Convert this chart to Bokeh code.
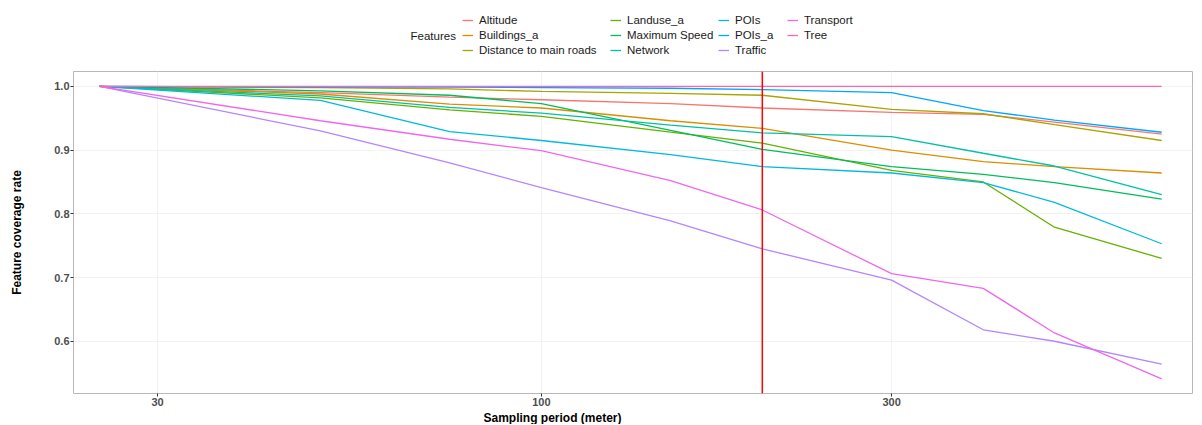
from bokeh.plotting import figure
from bokeh.layouts import column
from bokeh.models import (Range1d, FixedTicker, Span, Legend, LegendItem, Label,
                          PrintfTickFormatter, Title)
from bokeh.embed import file_html
from bokeh.resources import INLINE

# ---------------- data ----------------
sampling = [25, 50, 75, 100, 150, 200, 300, 400, 500, 700]

altitude = [1.0, 0.990, 0.983, 0.979, 0.973, 0.966, 0.959, 0.956, 0.944, 0.925]
buildings_a = [1.0, 0.988, 0.972, 0.966, 0.946, 0.934, 0.900, 0.882, 0.874, 0.864]
distance_main_roads = [1.0, 0.998, 0.996, 0.992, 0.989, 0.986, 0.964, 0.957, 0.940, 0.915]
landuse_a = [1.0, 0.982, 0.963, 0.953, 0.928, 0.911, 0.868, 0.850, 0.779, 0.730]
maximum_speed = [1.0, 0.993, 0.986, 0.973, 0.931, 0.901, 0.874, 0.862, 0.849, 0.823]
network = [1.0, 0.985, 0.967, 0.958, 0.939, 0.927, 0.921, 0.895, 0.875, 0.830]
pois = [1.0, 0.978, 0.929, 0.915, 0.893, 0.874, 0.864, 0.849, 0.818, 0.753]
pois_a = [1.0, 0.999, 0.999, 0.998, 0.997, 0.995, 0.990, 0.962, 0.947, 0.928]
traffic = [1.0, 0.930, 0.880, 0.841, 0.789, 0.745, 0.696, 0.618, 0.600, 0.564]
transport = [1.0, 0.946, 0.917, 0.899, 0.852, 0.806, 0.706, 0.683, 0.613, 0.541]
tree = [1.0, 1.0, 1.0, 1.0, 1.0, 1.0, 1.0, 1.0, 1.0, 1.0]

feature_names = ["Altitude", "Buildings_a", "Distance to main roads", "Landuse_a",
                 "Maximum Speed", "Network", "POIs", "POIs_a", "Traffic",
                 "Transport", "Tree"]
feature_values = [altitude, buildings_a, distance_main_roads, landuse_a,
                  maximum_speed, network, pois, pois_a, traffic, transport, tree]
feature_colors = ["#F8766D", "#DB8E00", "#AEA200", "#64B200", "#00BD5C", "#00C1A7",
                  "#00BADE", "#00A6FF", "#B385FF", "#EF67EB", "#FF63B6"]

x_ticks = [30, 100, 300]
y_ticks = [0.6, 0.7, 0.8, 0.9, 1.0]
chosen_period = 200

FONT = "Liberation Sans"
W = 1200
H = 424
LEG_H = 62
FRAME_LEFT = 73

# ---------------- legend strip ----------------
lg = figure(width=W, height=LEG_H, output_backend="svg", toolbar_location=None,
            x_range=Range1d(0, 1), y_range=Range1d(0, 1),
            min_border_left=0, min_border_right=0, min_border_top=0,
            min_border_bottom=0)
lg.axis.visible = False
lg.grid.visible = False
lg.outline_line_color = None
leg_items = []
for name, col in zip(feature_names, feature_colors):
    # off-range dummy line, only used for the legend key
    r = lg.line(x=[-5, -4], y=[-5, -4], line_color=col, line_width=1.3)
    leg_items.append(LegendItem(label=name, renderers=[r]))

col_x = [462, 610, 718, 787]        # page x of each legend column key
row_top = 13                         # page y of the legend's top
ROW_H = 14
for ci, gx in enumerate(col_x):
    items = leg_items[ci * 3:(ci + 1) * 3]
    n = len(items)
    h = n * ROW_H + (n - 1) * 1
    legend = Legend(items=items, orientation="vertical",
                    location=(gx - FRAME_LEFT, LEG_H - row_top - h),
                    padding=0, margin=0, spacing=1, label_height=ROW_H,
                    glyph_height=ROW_H, glyph_width=11, label_standoff=6,
                    label_text_font=FONT, label_text_font_size="11.5px",
                    label_text_color="#1a1a1a",
                    background_fill_alpha=0, border_line_alpha=0)
    lg.add_layout(legend, "center")
lg.add_layout(Label(x=410 - FRAME_LEFT, y=LEG_H - 35, x_units="screen",
                    y_units="screen", text="Features", text_font=FONT,
                    text_font_size="11.5px", text_color="#1a1a1a",
                    text_baseline="middle", text_align="left"))

# ---------------- main plot ----------------
p = figure(width=W, height=H - LEG_H, x_axis_type="log",
           x_range=Range1d(23.05, 771), y_range=Range1d(0.518, 1.0233),
           output_backend="svg", toolbar_location=None,
           min_border_left=FRAME_LEFT, min_border_right=8, min_border_top=9,
           min_border_bottom=28)

p.background_fill_color = "white"
p.outline_line_color = "#b8b8b8"
p.outline_line_width = 1

for name, vals, col in zip(feature_names, feature_values, feature_colors):
    p.line(sampling, vals, line_color=col, line_width=1.3)

p.add_layout(Span(location=chosen_period, dimension="height",
                  line_color="#FF0000", line_width=1.5))

p.xaxis.ticker = FixedTicker(ticks=x_ticks, minor_ticks=[])
p.xaxis.formatter = PrintfTickFormatter(format="%d")
p.yaxis.ticker = FixedTicker(ticks=y_ticks, minor_ticks=[])
p.yaxis.formatter = PrintfTickFormatter(format="%.1f")
for ax in (p.xaxis[0], p.yaxis[0]):
    ax.axis_line_color = None
    ax.major_tick_line_color = "#333333"
    ax.major_tick_out = 3
    ax.major_tick_in = 0
    ax.minor_tick_line_color = None
    ax.major_label_text_font = FONT
    ax.major_label_text_font_size = "11px"
    ax.major_label_text_font_style = "bold"
    ax.major_label_text_color = "#4d4d4d"
    ax.major_label_standoff = 1

p.yaxis.axis_label = "Feature coverage rate"
p.yaxis.axis_label_text_font = FONT
p.yaxis.axis_label_text_font_size = "12px"
p.yaxis.axis_label_text_font_style = "bold"
p.yaxis.axis_label_text_color = "black"
p.yaxis.axis_label_standoff = 27

p.xgrid.grid_line_color = "#f2f2f2"
p.ygrid.grid_line_color = "#f2f2f2"

p.add_layout(Title(text="Sampling period (meter)", align="left", offset=410,
                   standoff=0, text_font=FONT, text_font_size="12px",
                   text_font_style="bold", text_color="black"), "below")

layout = column(lg, p, spacing=0)
open("out.html", "w").write(file_html(layout, INLINE))
